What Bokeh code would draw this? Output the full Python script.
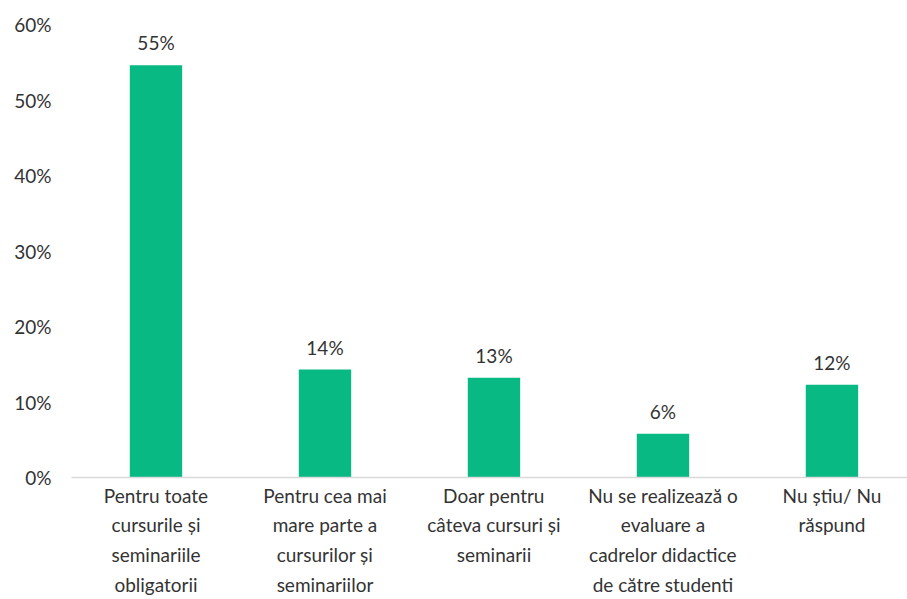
from bokeh.plotting import figure
from bokeh.models import Range1d, FixedTicker, ColumnDataSource
from bokeh.core.properties import value
from bokeh.embed import file_html
from bokeh.resources import INLINE

categories = [
    "Pentru toate\ncursurile și\nseminariile\nobligatorii",
    "Pentru cea mai\nmare parte a\ncursurilor și\nseminariilor",
    "Doar pentru\ncâteva cursuri și\nseminarii",
    "Nu se realizează o\nevaluare a\ncadrelor didactice\nde către studenti",
    "Nu știu/ Nu\nrăspund",
]
values = [54.6, 14.3, 13.2, 5.8, 12.3]
y_ticks = [0, 10, 20, 30, 40, 50, 60]

FONT = "Lato"
TXT = "#333333"
BAR = "#09B984"

xs = list(range(len(categories)))
labels = [f"{round(v)}%" for v in values]
src = ColumnDataSource(dict(x=xs, top=values, label=labels))

p = figure(width=907, height=599, output_backend="svg", toolbar_location=None,
           x_range=Range1d(-0.5, 4.447), y_range=Range1d(0, 60),
           min_border_left=71, min_border_right=0, min_border_top=24, min_border_bottom=118)
p.outline_line_color = None
p.xgrid.grid_line_color = None
p.ygrid.grid_line_color = None

p.vbar(x="x", top="top", width=0.31, source=src, fill_color=BAR, line_color=None)
p.text(x="x", y="top", text="label", source=src, text_align="center", text_baseline="bottom",
       y_offset=-11, text_font=value(FONT), text_font_size="19px", text_color=TXT)

p.xaxis.ticker = FixedTicker(ticks=xs)
p.xaxis.major_label_overrides = {i: c for i, c in enumerate(categories)}
p.xaxis.major_tick_line_color = None
p.xaxis.major_tick_out = 0
p.xaxis.major_tick_in = 0
p.xaxis.minor_tick_line_color = None
p.xaxis.axis_line_color = "#D9D9D9"
p.xaxis.axis_line_width = 1.5
p.xaxis.major_label_text_font = FONT
p.xaxis.major_label_text_font_size = "19px"
p.xaxis.major_label_text_color = TXT
p.xaxis.major_label_text_line_height = 1.3
p.xaxis.major_label_standoff = 6

p.yaxis.ticker = FixedTicker(ticks=y_ticks)
p.yaxis.major_label_overrides = {t: f"{t}%" for t in y_ticks}
p.yaxis.major_tick_line_color = None
p.yaxis.major_tick_out = 0
p.yaxis.major_tick_in = 0
p.yaxis.minor_tick_line_color = None
p.yaxis.axis_line_color = None
p.yaxis.major_label_text_font = FONT
p.yaxis.major_label_text_font_size = "19px"
p.yaxis.major_label_text_color = TXT
p.yaxis.major_label_standoff = 20

open("out.html", "w").write(file_html(p, INLINE))
